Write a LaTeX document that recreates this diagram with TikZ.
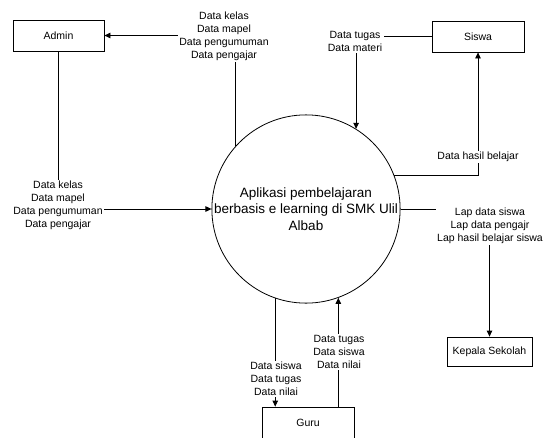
\documentclass[tikz,border=0pt]{standalone}
\usepackage{fontspec}
\setmainfont{Liberation Sans}
\usetikzlibrary{arrows.meta}
\begin{document}
\begin{tikzpicture}[x=1pt,y=-1pt,
  box/.style={draw,line width=0.8pt,minimum width=91pt,minimum height=31pt,inner sep=0pt,font=\fontsize{10.5}{13}\selectfont},
  lbl/.style={fill=white,align=center,inner sep=1.5pt,font=\fontsize{10.5}{13}\selectfont},
  flow/.style={line width=0.8pt,-{Triangle[length=6pt,width=5.5pt]}},
  plainline/.style={line width=0.8pt}]
\useasboundingbox (0,0) rectangle (545,437);
\clip (0,0) rectangle (545,437);
% entities
\node[box] (admin) at (58.5,35.5) {Admin};
\node[box,minimum width=92pt] (siswa) at (478,36.5) {Siswa};
\node[box,minimum width=85pt,minimum height=29pt] (kepala) at (489.5,351.5) {Kepala Sekolah};
\node[box,minimum width=92pt,minimum height=32pt] (guru) at (308,423) {Guru};
% process
\node[draw,circle,minimum size=188pt,inner sep=0pt,line width=0.8pt,align=center,
      font=\fontsize{13.5}{16.5}\selectfont] (P) at (306,209)
      {Aplikasi pembelajaran\\berbasis e learning di SMK Ulil\\Albab};
% connectors
\draw[flow] (P.138) |- (admin.east);
\draw[flow] (admin.south) |- (P.west);
\draw[flow] (siswa.west) -| (P.58.6);
\draw[flow] (P.21.9) -| (siswa.south);
\draw[flow] (P.east) -| (kepala.north);
\draw[flow] (P.251.4) -- (P.251.4 |- guru.north);
\draw[flow] (P.290.6 |- guru.north) -- (P.290.6);
% labels
\node[lbl] (l1) at (224,36) {Data kelas\\Data mapel\\Data pengumuman\\Data pengajar};
\node[lbl] (l2) at (58,205.5) {Data kelas\\Data mapel\\Data pengumuman\\Data pengajar};
\node[lbl] (l3) at (355,41.5) {Data tugas\\Data materi};
\node[lbl] (l4) at (478,157) {Data hasil belajar};
\node[lbl] (l5) at (490,226) {Lap data siswa\\Lap data pengajr\\Lap hasil belajar siswa};
\node[lbl] (l6) at (276,379) {Data siswa\\Data tugas\\Data nilai};
\node[lbl] (l7) at (339,352) {Data tugas\\Data siswa\\Data nilai};
\end{tikzpicture}
\end{document}
